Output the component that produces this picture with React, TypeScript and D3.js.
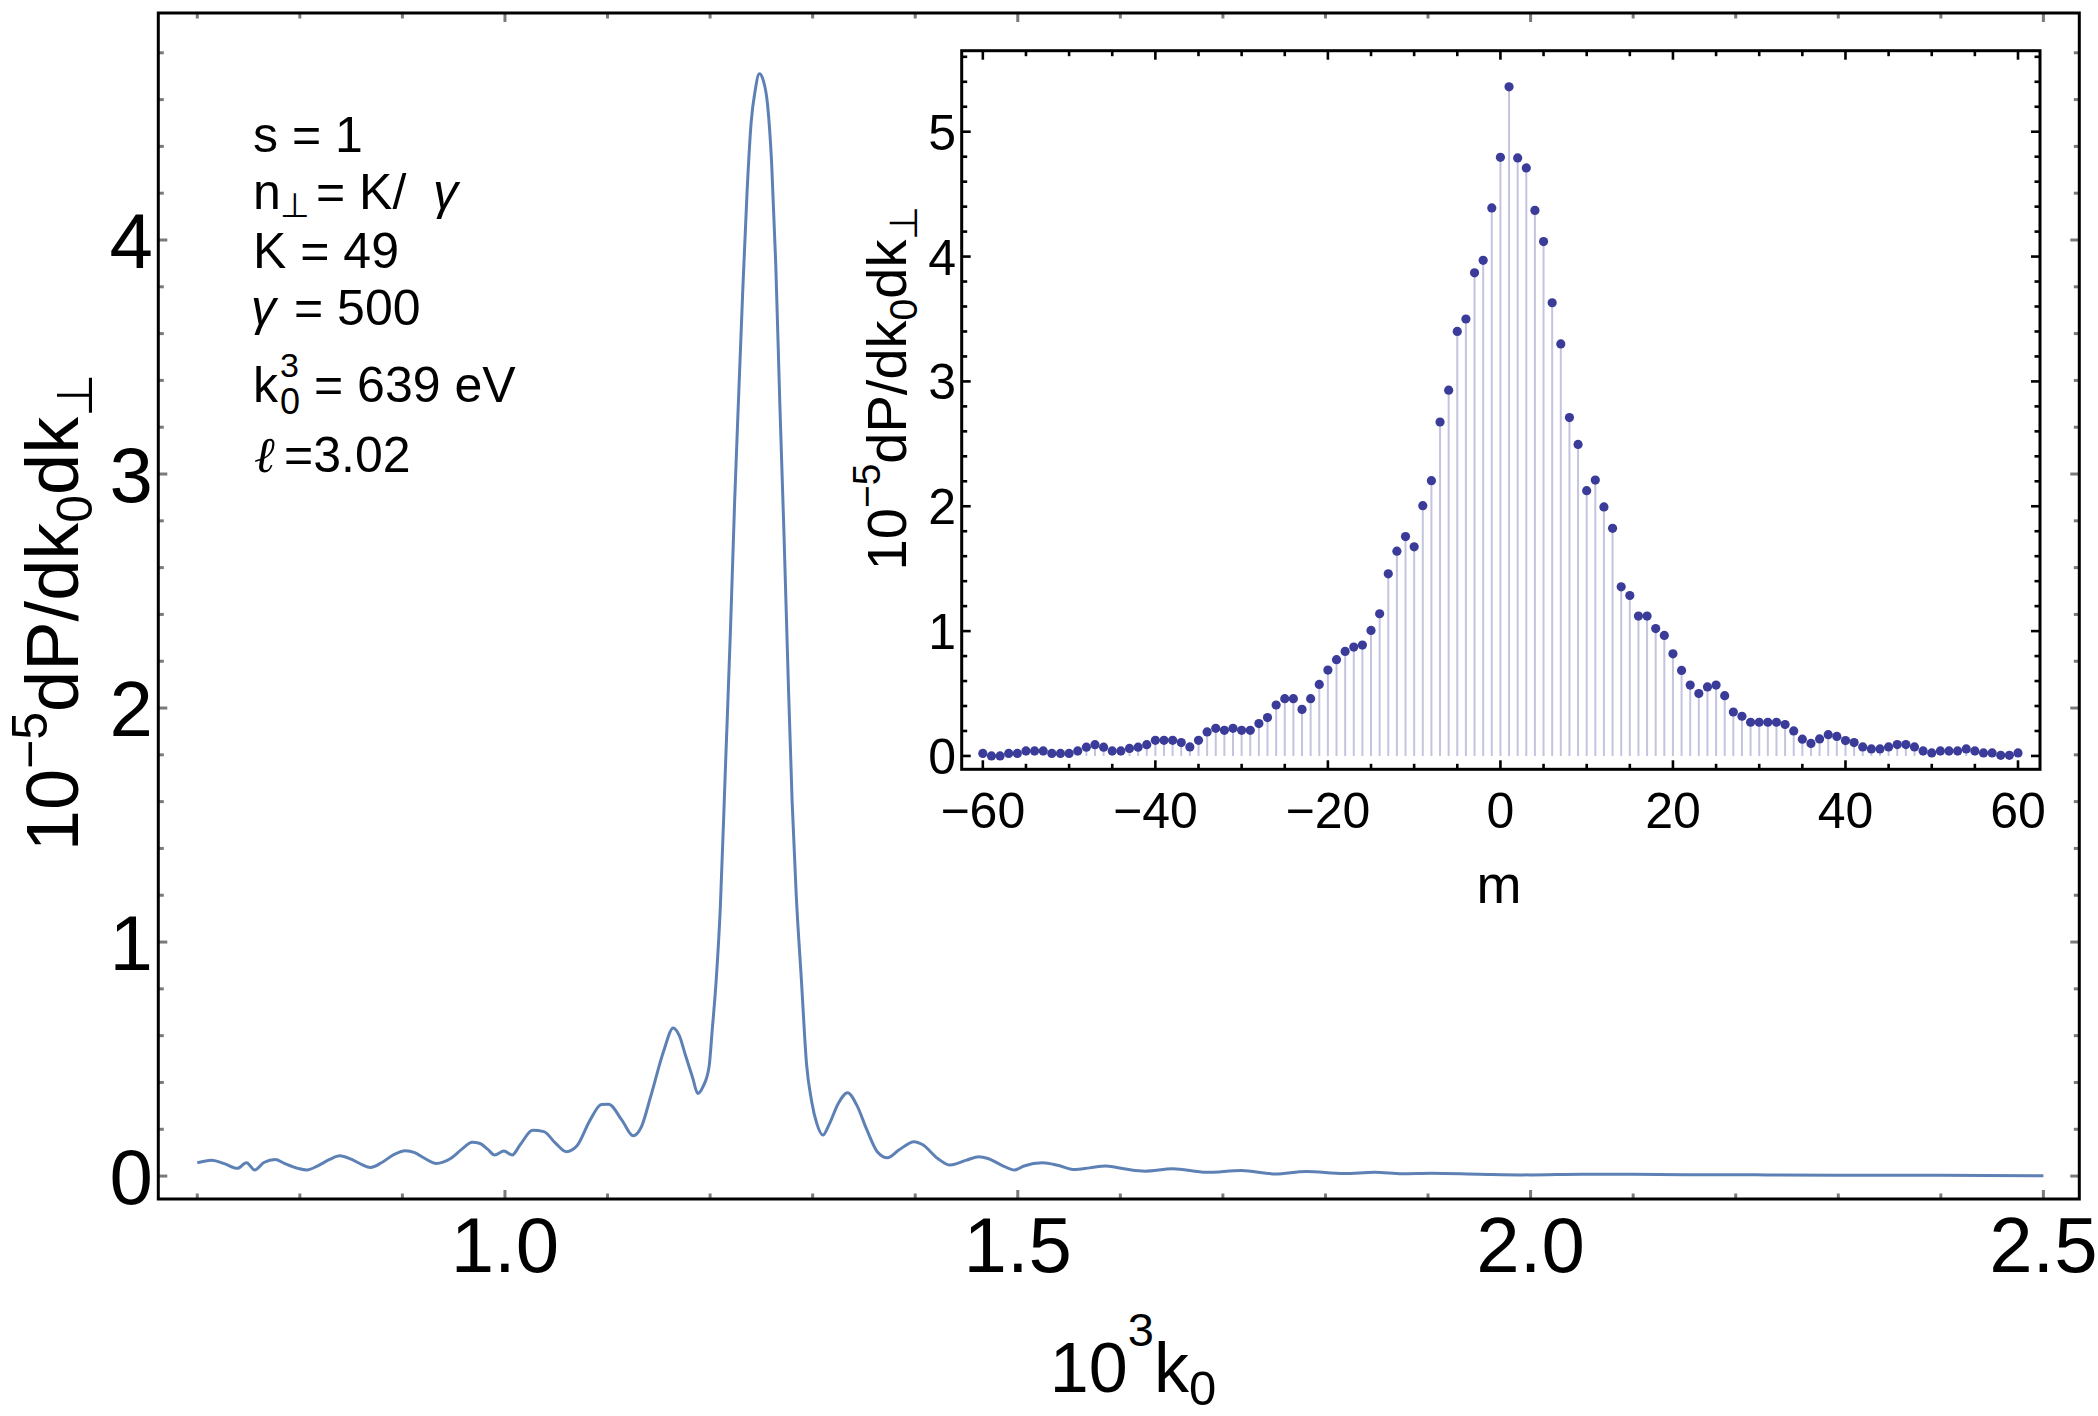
import React from 'react';
import * as d3 from 'd3';

const W = 2098;
const H = 1416;
const FONT = '"Liberation Sans", Arial, Helvetica, sans-serif';

// Spectrum dP/dk0 dk_perp versus 10^3 k0
const k0Values = [
  0.700, 0.714, 0.727, 0.739, 0.748, 0.756, 0.765, 0.776, 0.785, 0.798,
  0.807, 0.818, 0.829, 0.839, 0.850, 0.860, 0.869, 0.880, 0.891, 0.903,
  0.912, 0.922, 0.933, 0.947, 0.958, 0.968, 0.975, 0.983, 0.990, 0.999,
  1.007, 1.015, 1.027, 1.038, 1.049, 1.060, 1.070, 1.083, 1.094, 1.101,
  1.114, 1.125, 1.133, 1.142, 1.155, 1.164, 1.170, 1.176, 1.183, 1.188,
  1.193, 1.199, 1.202, 1.206, 1.210, 1.215, 1.220, 1.224, 1.228, 1.232,
  1.236, 1.240, 1.244, 1.248, 1.252, 1.256, 1.260, 1.264, 1.268, 1.272,
  1.276, 1.280, 1.284, 1.289, 1.294, 1.299, 1.304, 1.310, 1.316, 1.325,
  1.334, 1.343, 1.353, 1.363, 1.373, 1.384, 1.399, 1.407, 1.422, 1.434,
  1.450, 1.462, 1.471, 1.484, 1.497, 1.506, 1.524, 1.540, 1.555, 1.570,
  1.586, 1.605, 1.624, 1.651, 1.684, 1.718, 1.751, 1.781, 1.818, 1.848,
  1.875, 1.903, 1.950, 2.000, 2.050, 2.097, 2.150, 2.230, 2.300, 2.400,
  2.500,
];
const powerValues = [
  0.057, 0.068, 0.052, 0.033, 0.057, 0.026, 0.058, 0.071, 0.054, 0.033,
  0.026, 0.045, 0.071, 0.087, 0.072, 0.050, 0.037, 0.058, 0.090, 0.108,
  0.100, 0.075, 0.054, 0.075, 0.115, 0.144, 0.140, 0.115, 0.090, 0.107,
  0.090, 0.135, 0.196, 0.190, 0.142, 0.104, 0.128, 0.239, 0.306, 0.307,
  0.239, 0.172, 0.210, 0.339, 0.538, 0.633, 0.600, 0.516, 0.420, 0.353,
  0.381, 0.467, 0.620, 0.840, 1.150, 1.750, 2.350, 2.890, 3.350, 3.800,
  4.200, 4.500, 4.640, 4.710, 4.680, 4.580, 4.330, 3.900, 3.300, 2.750,
  2.150, 1.600, 1.200, 0.840, 0.481, 0.320, 0.225, 0.175, 0.220, 0.310,
  0.356, 0.303, 0.196, 0.104, 0.078, 0.111, 0.147, 0.135, 0.075, 0.047,
  0.068, 0.083, 0.075, 0.047, 0.026, 0.043, 0.057, 0.045, 0.028, 0.035,
  0.043, 0.030, 0.021, 0.031, 0.016, 0.024, 0.009, 0.020, 0.011, 0.016,
  0.010, 0.012, 0.008, 0.005, 0.008, 0.008, 0.006, 0.005, 0.004, 0.003,
  0.001,
];

// Harmonic contributions, m = -60 ... 60
const harmonicFirst = -60;
const harmonicPower = [
  0.020, 0.000, 0.000, 0.020, 0.020, 0.040, 0.040, 0.040, 0.020, 0.020,
  0.020, 0.040, 0.070, 0.090, 0.070, 0.040, 0.040, 0.060, 0.070, 0.090,
  0.125, 0.125, 0.125, 0.107, 0.072, 0.125, 0.192, 0.221, 0.205, 0.221,
  0.205, 0.205, 0.259, 0.307, 0.408, 0.459, 0.459, 0.373, 0.459, 0.573,
  0.688, 0.771, 0.837, 0.872, 0.888, 1.005, 1.139, 1.459, 1.640, 1.757,
  1.675, 2.005, 2.205, 2.675, 2.930, 3.400, 3.500, 3.870, 3.970, 4.390,
  4.795, 5.360, 4.790, 4.710, 4.370, 4.120, 3.630, 3.300, 2.710, 2.495,
  2.125, 2.210, 1.995, 1.823, 1.355, 1.285, 1.120, 1.120, 1.020, 0.965,
  0.818, 0.685, 0.568, 0.500, 0.553, 0.568, 0.483, 0.352, 0.318, 0.270,
  0.270, 0.270, 0.270, 0.252, 0.200, 0.134, 0.100, 0.136, 0.170, 0.156,
  0.123, 0.107, 0.072, 0.056, 0.056, 0.072, 0.091, 0.091, 0.072, 0.040,
  0.024, 0.040, 0.040, 0.040, 0.056, 0.040, 0.024, 0.024, 0.005, 0.005,
  0.024,
];

const mainXTicks = [1.0, 1.5, 2.0, 2.5];
const mainYTicks = [0, 1, 2, 3, 4];
const insetXTicks = [-60, -40, -20, 0, 20, 40, 60];
const insetYTicks = [0, 1, 2, 3, 4, 5];

// Main frame
const M = { left: 158.3, right: 2079.3, top: 13, bottom: 1199 };
const xMain = d3.scaleLinear().domain([0.662, 2.535]).range([M.left, M.right]);
const yMain = d3.scaleLinear().domain([-0.098, 4.97]).range([M.bottom, M.top]);

// Inset frame
const I = { left: 961.7, right: 2040, top: 50.7, bottom: 769.3 };
const xIn = d3.scaleLinear().domain([-62.45, 62.55]).range([I.left, I.right]);
const yIn = d3.scaleLinear().domain([-0.107, 5.649]).range([I.bottom, I.top]);

const LINE_BLUE = '#5E81B5';
const DOT_BLUE = '#3B3B99';
const MAIN_TICK = '#7a7a7a';

function FrameTicks({ xs, ys, xScale, yScale, box, len, color, width }) {
  const out = [];
  xs.forEach(([v, major], i) => {
    const x = xScale(v);
    const l = major ? len[1] : len[0];
    out.push(<line key={`b${i}`} x1={x} x2={x} y1={box.bottom} y2={box.bottom - l} />);
    out.push(<line key={`t${i}`} x1={x} x2={x} y1={box.top} y2={box.top + l} />);
  });
  ys.forEach(([v, major], i) => {
    const y = yScale(v);
    const l = major ? len[1] : len[0];
    out.push(<line key={`l${i}`} x1={box.left} x2={box.left + l} y1={y} y2={y} />);
    out.push(<line key={`r${i}`} x1={box.right} x2={box.right - l} y1={y} y2={y} />);
  });
  return (
    <g stroke={color} strokeWidth={width} strokeLinecap="butt">
      {out}
    </g>
  );
}

export default function App() {
  const spectrum = k0Values.map((k, i) => [k, powerValues[i]] as [number, number]);
  const linePath = d3
    .line<[number, number]>()
    .x((d) => xMain(d[0]))
    .y((d) => yMain(d[1]))
    .curve(d3.curveMonotoneX)(spectrum);

  const harmonics = harmonicPower.map((p, i) => ({ m: harmonicFirst + i, p }));

  const mainXMinor = d3.range(7, 26).map((i) => [i / 10, i % 5 === 0]);
  const mainYMinor = d3.range(0, 25).map((i) => [i / 5, i % 5 === 0]);
  const inXMinor = d3.range(-12, 13).map((i) => [i * 5, i % 4 === 0]);
  const inYMinor = d3.range(0, 29).map((i) => [i / 5, i % 5 === 0]);

  const fmt1 = d3.format('.1f');

  return (
    <svg
      width={W}
      height={H}
      viewBox={`0 0 ${W} ${H}`}
      style={{ position: 'absolute', left: 0, top: 0, background: '#fff' }}
      fontFamily={FONT}
    >
      <rect x={0} y={0} width={W} height={H} fill="#fff" />

      {/* main spectrum */}
      <path d={linePath || ''} fill="none" stroke={LINE_BLUE} strokeWidth={3} strokeLinejoin="round" />

      <FrameTicks
        xs={mainXMinor}
        ys={mainYMinor}
        xScale={xMain}
        yScale={yMain}
        box={M}
        len={[5.5, 9]}
        color={MAIN_TICK}
        width={3}
      />
      <rect
        x={M.left}
        y={M.top}
        width={M.right - M.left}
        height={M.bottom - M.top}
        fill="none"
        stroke="#000"
        strokeWidth={3}
      />

      {/* main tick labels */}
      <g fontSize={78} fill="#000">
        {mainXTicks.map((t) => (
          <text key={`mx${t}`} x={xMain(t)} y={1272} textAnchor="middle">
            {fmt1(t)}
          </text>
        ))}
        {mainYTicks.map((t) => (
          <text key={`my${t}`} x={153} y={yMain(t) + 28} textAnchor="end">
            {t}
          </text>
        ))}
      </g>

      {/* main axis labels */}
      <text x={1133} y={1392} textAnchor="middle" fontSize={70} fill="#000">
        <tspan>10</tspan>
        <tspan dy={-46} fontSize={47}>3</tspan>
        <tspan dy={46}>k</tspan>
        <tspan dy={13} fontSize={49}>0</tspan>
      </text>
      <text
        transform={`translate(78, 612) rotate(-90)`}
        textAnchor="middle"
        fontSize={74}
        fill="#000"
      >
        <tspan>10</tspan>
        <tspan dy={-31} fontSize={50}>−5</tspan>
        <tspan dy={31}>dP/dk</tspan>
        <tspan dy={14} fontSize={50}>0</tspan>
        <tspan dy={-14}>dk</tspan>
        <tspan dy={14} fontSize={50}>⊥</tspan>
      </text>

      {/* parameter annotations */}
      <g fontSize={50} fill="#000">
        <text x={253} y={152}>s = 1</text>
        <text x={253} y={209}>n</text>
        <text x={280} y={217} fontSize={34}>⊥</text>
        <text x={316} y={209}>= K/</text>
        <text x={433} y={209} fontStyle="italic">γ</text>
        <text x={253} y={268}>K = 49</text>
        <text x={251} y={325} fontStyle="italic">γ</text>
        <text x={294} y={325}>= 500</text>
        <text x={253} y={402}>k</text>
        <text x={280} y={377} fontSize={34}>3</text>
        <text x={280} y={414} fontSize={36}>0</text>
        <text x={314} y={402}>= 639 eV</text>
        <text x={254} y={472} fontStyle="italic" fontFamily='"DejaVu Serif", serif'>ℓ</text>
        <text x={284} y={472}>=3.02</text>
      </g>

      {/* inset: harmonic contributions */}
      <rect x={I.left} y={I.top} width={I.right - I.left} height={I.bottom - I.top} fill="#fff" />
      <g stroke={DOT_BLUE} strokeOpacity={0.3} strokeWidth={2}>
        {harmonics.map((d) => (
          <line key={`s${d.m}`} x1={xIn(d.m)} x2={xIn(d.m)} y1={yIn(0)} y2={yIn(d.p)} />
        ))}
      </g>
      <g fill={DOT_BLUE}>
        {harmonics.map((d) => (
          <circle key={`c${d.m}`} cx={xIn(d.m)} cy={yIn(d.p)} r={4.6} />
        ))}
      </g>
      <FrameTicks
        xs={inXMinor}
        ys={inYMinor}
        xScale={xIn}
        yScale={yIn}
        box={I}
        len={[5.5, 9]}
        color="#000"
        width={2.6}
      />
      <rect
        x={I.left}
        y={I.top}
        width={I.right - I.left}
        height={I.bottom - I.top}
        fill="none"
        stroke="#000"
        strokeWidth={3}
      />
      <g fontSize={50} fill="#000">
        {insetXTicks.map((t) => (
          <text key={`ix${t}`} x={xIn(t)} y={828} textAnchor="middle">
            {t < 0 ? `−${Math.abs(t)}` : `${t}`}
          </text>
        ))}
        {insetYTicks.map((t) => (
          <text key={`iy${t}`} x={956} y={yIn(t) + 18} textAnchor="end">
            {t}
          </text>
        ))}
      </g>
      <text x={1499} y={903} textAnchor="middle" fontSize={54} fill="#000">m</text>
      <text
        transform={`translate(906, 388) rotate(-90)`}
        textAnchor="middle"
        fontSize={56}
        fill="#000"
      >
        <tspan>10</tspan>
        <tspan dy={-26} fontSize={39}>−5</tspan>
        <tspan dy={26}>dP/dk</tspan>
        <tspan dy={11} fontSize={39}>0</tspan>
        <tspan dy={-11}>dk</tspan>
        <tspan dy={11} fontSize={39}>⊥</tspan>
      </text>
    </svg>
  );
}
